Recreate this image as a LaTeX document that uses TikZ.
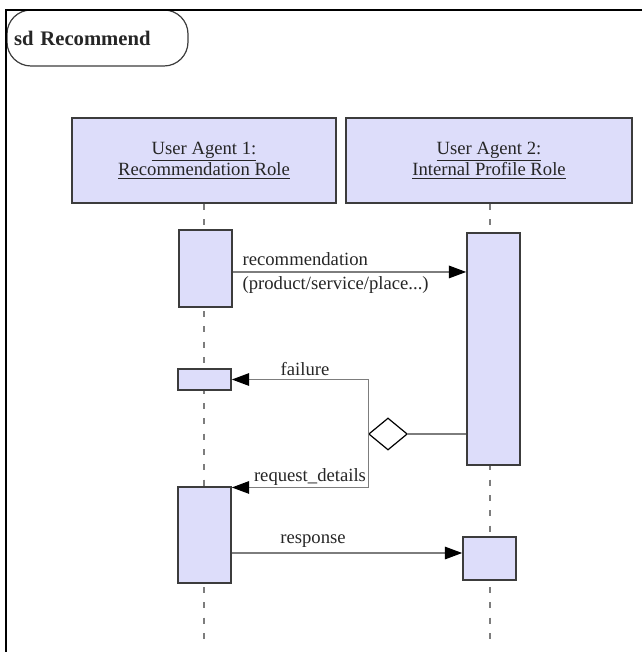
\documentclass[tikz,border=0pt]{standalone}
\usepackage{fontspec}
\setmainfont{Liberation Serif}
\usetikzlibrary{arrows.meta, shapes.geometric}
\definecolor{actfill}{RGB}{221,221,250}
\definecolor{edgegray}{RGB}{60,60,60}
\definecolor{wiregray}{RGB}{125,125,125}
\tikzset{
    every node/.style={font=\fontsize{14}{15.75}\selectfont, text=black!85},
    head/.style={draw=edgegray, line width=1pt, fill=actfill,
        minimum height=63.75pt, align=center},
    act/.style={draw=edgegray, line width=1.3pt, fill=actfill,
        minimum width=39.75pt, inner sep=0pt},
    lifeline/.style={wiregray, line width=0.9pt, dash pattern=on 4.5pt off 7pt},
    link/.style={wiregray, line width=0.8pt},
    msg/.style={link, -{Triangle[length=13pt, width=9.5pt, color=black]}},
    lbl/.style={inner sep=1pt},
    choice/.style={diamond, draw=black, line width=0.9pt, fill=white,
        minimum width=29pt, minimum height=24pt, inner sep=0pt},
    titlebox/.style={draw=edgegray, line width=0.9pt, rounded corners=18pt,
        text width=125.25pt, inner xsep=5.25pt, minimum height=42pt,
        align=left, font=\fontsize{15.5}{18}\selectfont\bfseries},
}

\begin{document}
\begin{tikzpicture}[x=0.75pt, y=-0.75pt]
    \useasboundingbox (0,0) rectangle (642,652);
    % frame and its name tag
    \node[titlebox] (title) at (97.5,38) {sd Recommend};
    \draw[line width=2.2pt] (642,10) -- (6,10) -- (6,652);

    % lifeline heads
    \node[head, minimum width=198pt] (ua1) at (204,160.5)
        {\underline{User Agent 1:}\\\underline{Recommendation Role}};
    \node[head, minimum width=214.5pt] (ua2) at (489,160.5)
        {\underline{User Agent 2:}\\\underline{Internal Profile Role}};
    \draw[lifeline] (ua1.south) -- ++(0,440);
    \draw[lifeline] ([xshift=0.75pt]ua2.south) -- ++(0,435);

    % activations
    \node[act, minimum height=57.75pt] (a1) at (205.5,268.5) {};
    \node[act, minimum height=174pt] (b1) at (493.5,349) {};
    \node[act, minimum height=15.75pt] (a2) at (204.5,379.5) {};
    \node[act, minimum height=72pt] (a3) at (204.5,535) {};
    \node[act, minimum height=32.25pt] (b2) at (489.5,558.5) {};

    % messages
    \draw[msg] ([yshift=-2.6pt]a1.east) -- ([yshift=-2.6pt]a1.east -| b1.west);
    \node[lbl, anchor=west, align=left, font=\fontsize{14}{18}\selectfont]
        (reclbl) at (241,273) {recommendation\\(product/service/place...)};

    \node[choice] (fork) at (388,434) {};
    \draw[link] (fork.east) -- (fork.east -| b1.west);
    \draw[msg] (fork.west) |- (a2.east);
    \draw[msg] (fork.west) |- ([yshift=-1pt]a3.north east);
    \node[lbl] (faillbl) at (305,369) {failure};
    \node[lbl] (reqlbl) at (310,477) {request\_details};

    \draw[msg] ([yshift=-13.5pt]a3.east) -- ([yshift=-13.5pt]a3.east -| b2.west);
    \node[lbl] (resplbl) at (313,541) {response};
\end{tikzpicture}
\end{document}
